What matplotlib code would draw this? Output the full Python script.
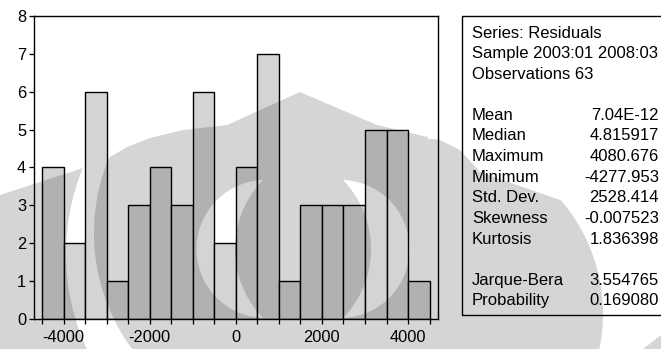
import numpy as np
import matplotlib
matplotlib.use("Agg")
import matplotlib.pyplot as plt
from matplotlib.patches import Rectangle

# Histogram of residuals
bin_edges = [-4500, -4000, -3500, -3000, -2500, -2000, -1500, -1000, -500, 0,
             500, 1000, 1500, 2000, 2500, 3000, 3500, 4000, 4500]
counts = [4, 2, 6, 1, 3, 4, 3, 6, 2, 4, 7, 1, 3, 3, 3, 5, 5, 1]
x_labelled_ticks = [-4000, -2000, 0, 2000, 4000]
y_ticks = [0, 1, 2, 3, 4, 5, 6, 7, 8]

# Descriptive statistics panel
header_lines = ["Series: Residuals", "Sample 2003:01 2008:03", "Observations 63"]
stat_names = ["Mean", "Median", "Maximum", "Minimum", "Std. Dev.", "Skewness", "Kurtosis"]
stat_values = ["7.04E-12", "4.815917", "4080.676", "-4277.953", "2528.414", "-0.007523", "1.836398"]
test_names = ["Jarque-Bera", "Probability"]
test_values = ["3.554765", "0.169080"]

W, H = 661, 349
plt.rcParams["font.family"] = ["Liberation Sans", "DejaVu Sans"]
fig = plt.figure(figsize=(W / 100, H / 100), dpi=100)
fig.patch.set_facecolor("white")

PT = 72 / 100  # points per pixel

ax = fig.add_axes([34 / W, (H - 319) / H, (438 - 34) / W, (319 - 16) / H])
edges = np.array(bin_edges, dtype=float)
ax.bar(edges[:-1], counts, width=np.diff(edges), align="edge",
       color="#d4d4d4", edgecolor="black", linewidth=1.0, zorder=2)
ax.set_xlim(-4685, 4695)
ax.set_ylim(0, 8)
ax.set_xticks(x_labelled_ticks)
ax.set_xticklabels([str(v) for v in x_labelled_ticks])
ax.set_xticks([e for e in bin_edges if e not in x_labelled_ticks], minor=True)
ax.set_yticks(y_ticks)
ax.tick_params(axis="both", which="both", direction="out", length=5 * PT,
               width=1.0 * PT * 1.3, labelsize=11.8, colors="black")
ax.tick_params(axis="x", which="major", pad=4.5)
ax.tick_params(axis="y", which="major", pad=2)
for sp in ax.spines.values():
    sp.set_linewidth(1.0)
    sp.set_color("black")

# Statistics box
fig.patches.append(Rectangle((462 / W, (H - 315) / H), (700 - 462) / W, (315 - 16) / H,
                             transform=fig.transFigure, fill=False,
                             edgecolor="black", linewidth=1.0))

line_h = 20.6
y0 = 33
rows = []
for s in header_lines:
    rows.append((s, None))
rows.append(("", None))
for n, v in zip(stat_names, stat_values):
    rows.append((n, v))
rows.append(("", None))
for n, v in zip(test_names, test_values):
    rows.append((n, v))
for i, (name, val) in enumerate(rows):
    y = 1 - (y0 + i * line_h) / H
    if name:
        fig.text(472 / W, y, name, ha="left", va="center", fontsize=12)
    if val is not None:
        fig.text(659 / W, y, val, ha="right", va="center", fontsize=12)

# Translucent background emblem laid over the whole figure
s = 3
gx = (np.arange(W * s) + 0.5) / s
gy = (np.arange(H * s) + 0.5) / s
X, Y = np.meshgrid(gx, gy)

top_x = [0, 83, 110, 127, 150, 183, 227, 300, 377, 440, 460, 480, 560, 661]
top_y = [195, 168, 157, 147, 138, 130, 125, 92, 125, 140, 150, 172, 200, 230]
top = np.interp(X, top_x, top_y)


def inside(cx, cy, r):
    return (X - cx) ** 2 + (Y - cy) ** 2 < r ** 2


body = (Y > top) & ((X >= 290) | inside(290, 233, 196)) & ((X <= 428) | inside(428, 314, 175))
hole_l = inside(265.5, 249, 69) & ~inside(334, 249, 99)
hole_r = inside(340.5, 249, 69) & ~inside(272, 249, 99)
outer_l = (X < 200) & ~inside(294, 254, 228) & (Y > 195 - X * 27 / 83)
corner = (X > 600) & (Y > 349 - (X - 643) * 0.78)
mask = (body & ~hole_l & ~hole_r) | outer_l | corner
cov = mask.reshape(H, s, W, s).mean(axis=(1, 3))

rgba = np.zeros((H, W, 4))
rgba[..., 3] = cov * 0.165
wm = fig.add_axes([0, 0, 1, 1], zorder=10)
wm.imshow(rgba, extent=(0, W, H, 0), interpolation="bilinear", aspect="auto")
wm.set_xlim(0, W)
wm.set_ylim(H, 0)
wm.axis("off")

fig.savefig("out.png", dpi=100, facecolor="white")
